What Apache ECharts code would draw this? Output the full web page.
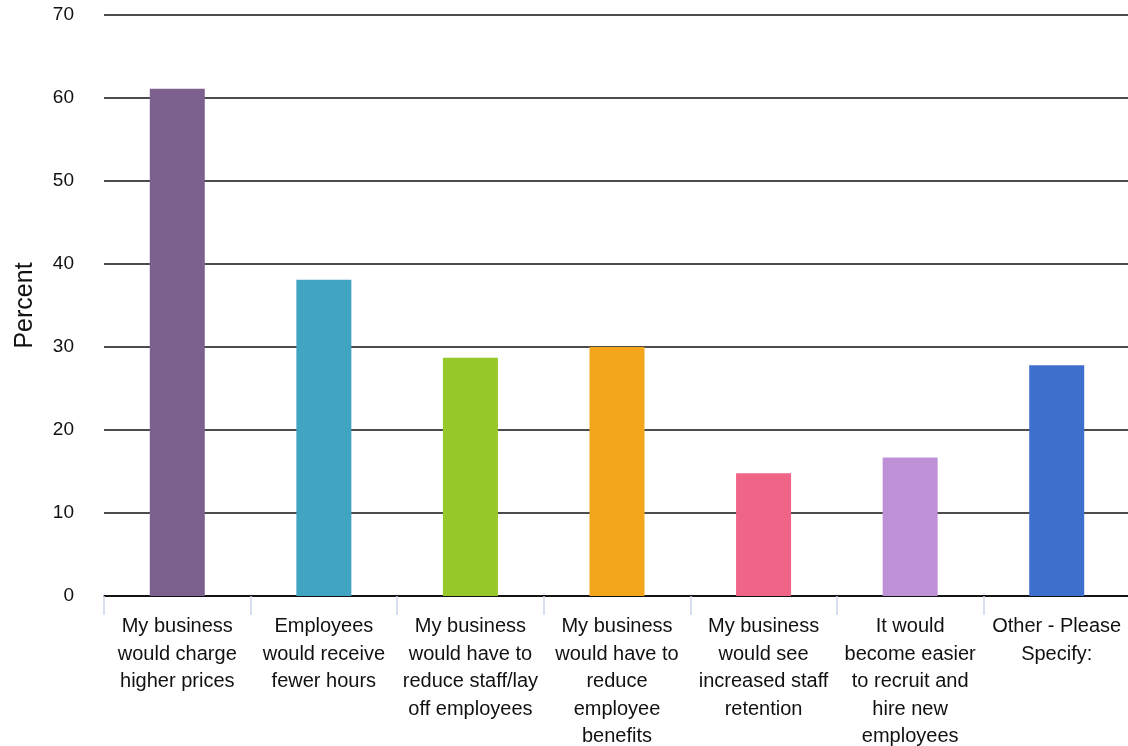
<!DOCTYPE html>
<html>
<head>
<meta charset="utf-8">
<script src="https://cdn.jsdelivr.net/npm/echarts@6/dist/echarts.min.js"></script>
<style>
  html, body { margin: 0; padding: 0; background: #fff; }
  #chart { width: 1128px; height: 746px; }
</style>
</head>
<body>
<div id="chart"></div>
<script>
// Expected impacts reported by businesses (percent of respondents)
const categories = [
  'My business\nwould charge\nhigher prices',
  'Employees\nwould receive\nfewer hours',
  'My business\nwould have to\nreduce staff/lay\noff employees',
  'My business\nwould have to\nreduce\nemployee\nbenefits',
  'My business\nwould see\nincreased staff\nretention',
  'It would\nbecome easier\nto recruit and\nhire new\nemployees',
  'Other - Please\nSpecify:'
];
const percentValues = [61.1, 38.1, 28.7, 30.0, 14.8, 16.7, 27.8];
const barColors = ['#7c608e', '#42a4c3', '#97c82a', '#f4a61b', '#f06487', '#be91d7', '#3e6fcd'];
const yTicks = { min: 0, max: 70, interval: 10 };

const fontFamily = 'Liberation Sans, Arial, sans-serif';

const chart = echarts.init(document.getElementById('chart'));
chart.setOption({
  animation: false,
  grid: {
    left: 104, right: -2, top: 15, bottom: 150,
    containLabel: false,
    outerBoundsMode: 'none'
  },
  xAxis: {
    type: 'category',
    data: categories,
    axisLine: { show: true, lineStyle: { color: '#000', width: 1.5 } },
    axisTick: { show: true, length: 19, lineStyle: { color: '#ccd6eb', width: 1.5 } },
    axisLabel: {
      interval: 0,
      margin: 17,
      fontFamily: fontFamily,
      fontSize: 20,
      lineHeight: 27.5,
      color: '#111',
      align: 'center'
    }
  },
  yAxis: {
    type: 'value',
    min: yTicks.min,
    max: yTicks.max,
    interval: yTicks.interval,
    name: 'Percent',
    nameLocation: 'middle',
    nameRotate: 90,
    nameGap: 66,
    nameTextStyle: { fontFamily: fontFamily, fontSize: 25, color: '#111' },
    axisLine: { show: false },
    axisTick: { show: false },
    axisLabel: {
      margin: 30,
      fontFamily: fontFamily,
      fontSize: 19,
      color: '#111'
    },
    splitLine: { show: true, lineStyle: { color: '#111', width: 1.5 } }
  },
  series: [{
    type: 'bar',
    barWidth: 55,
    data: percentValues.map((v, i) => ({ value: v, itemStyle: { color: barColors[i] } }))
  }]
});
</script>
</body>
</html>
